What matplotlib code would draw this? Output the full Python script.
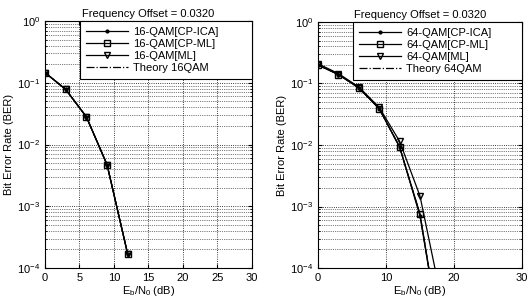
import matplotlib
matplotlib.use('Agg')
import matplotlib.pyplot as plt
import numpy as np
from matplotlib.ticker import LogLocator, NullFormatter, MultipleLocator

plt.rcParams['font.family'] = ['Liberation Sans', 'DejaVu Sans']
plt.rcParams['mathtext.fontset'] = 'custom'
plt.rcParams['mathtext.rm'] = 'Liberation Sans'
plt.rcParams['mathtext.it'] = 'Liberation Sans'

# 16-QAM panel
ebn0_16 = [0, 3, 6, 9, 12]
ica_16 = [0.146, 0.078, 0.028, 0.0047, 1.66e-4]
cpml_16 = [0.146, 0.078, 0.028, 0.0047, 1.66e-4]
ml_16 = [0.146, 0.078, 0.028, 0.0047, 1.66e-4]
theory_16 = [0.146, 0.078, 0.028, 0.0047, 1.66e-4]

# 64-QAM panel
ebn0_64 = [0, 3, 6, 9, 12, 15, 18]
ica_64 = [0.200, 0.140, 0.085, 0.039, 0.0093, 7.0e-4, 7e-6]
cpml_64 = [0.200, 0.140, 0.085, 0.039, 0.0093, 7.6e-4, 7e-6]
ml_64 = [0.210, 0.145, 0.088, 0.041, 0.0115, 1.48e-3, 3.7e-5]
theory_64 = [0.200, 0.140, 0.085, 0.039, 0.0093, 7.4e-4, 7e-6]

title = 'Frequency Offset = 0.0320'
fs = 8

fig = plt.figure(figsize=(5.27, 3.03), dpi=100)
ax1 = fig.add_axes([0.0854, 0.1155, 0.3926, 0.8152])
ax2 = fig.add_axes([0.6034, 0.1155, 0.3871, 0.8119])


def draw(ax, x, ica, cpml, ml, th, mod, xstep, leg_x):
    ax.semilogy(x, ica, '-', color='k', lw=0.9, marker='.', ms=4, label=mod + '[CP-ICA]')
    ax.semilogy(x, cpml, '-', color='k', lw=0.9, marker='s', ms=4.5, mfc='none', label=mod + '[CP-ML]')
    ax.semilogy(x, ml, '-', color='k', lw=0.9, marker='v', ms=4.5, mfc='none', label=mod + '[ML]')
    ax.semilogy(x, th, '-.', color='k', lw=0.9, label='Theory ' + mod.replace('-', ''))
    ax.set_xlim(0, 30)
    ax.set_ylim(1e-4, 1)
    ax.xaxis.set_major_locator(MultipleLocator(xstep))
    ax.yaxis.set_major_locator(LogLocator(base=10, numticks=10))
    ax.yaxis.set_minor_locator(LogLocator(base=10, subs=np.arange(2, 10), numticks=10))
    ax.yaxis.set_minor_formatter(NullFormatter())
    ax.grid(True, which='major', ls=':', color='k', lw=0.6)
    ax.grid(True, which='minor', axis='y', ls=':', color='k', lw=0.5)
    ax.tick_params(direction='in', labelsize=fs, length=3, top=True, right=True)
    ax.tick_params(which='minor', direction='in', length=1.5, right=True)
    ax.set_title(title, fontsize=fs, pad=3)
    ax.set_xlabel('$E_b/N_0$ (dB)', fontsize=fs, labelpad=1)
    ax.set_ylabel('Bit Error Rate (BER)', fontsize=fs, labelpad=2)
    leg = ax.legend(loc='upper left', bbox_to_anchor=(leg_x, 0, 1 - leg_x, 1),
                    mode='expand', fontsize=fs, fancybox=False, framealpha=1,
                    edgecolor='k', handlelength=3.8, borderaxespad=0,
                    labelspacing=0.2, borderpad=0.5, handletextpad=0.5)
    leg.get_frame().set_linewidth(0.8)


draw(ax1, ebn0_16, ica_16, cpml_16, ml_16, theory_16, '16-QAM', 5, 0.169)
draw(ax2, ebn0_64, ica_64, cpml_64, ml_64, theory_64, '64-QAM', 10, 0.172)

fig.savefig('out.png', dpi=100)
